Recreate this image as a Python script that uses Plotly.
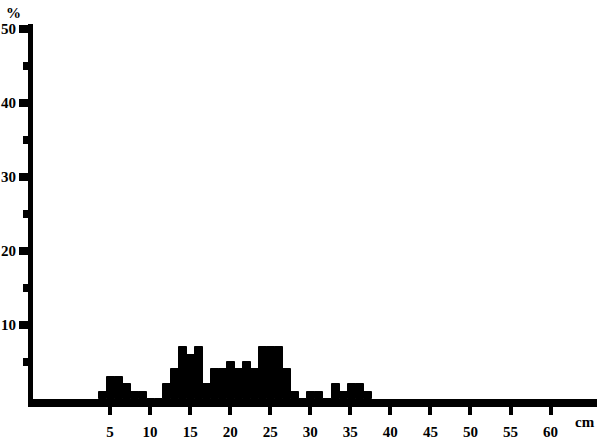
import plotly.graph_objects as go

# Length classes (cm) and share of fish (%)
lengths_cm = list(range(4, 38))
percent = [1, 3, 3, 2, 1, 1, 0, 0, 2, 4, 7, 6, 7, 2, 4, 4, 5, 4, 5, 4,
           7, 7, 7, 4, 1, 0, 1, 1, 0, 2, 1, 2, 2, 1]

x_ticks = [5, 10, 15, 20, 25, 30, 35, 40, 45, 50, 55, 60]
x_tick_labels = [str(v) for v in x_ticks]
x_long_ticks = [10, 20, 30, 40, 50, 60]
y_ticks = [10, 20, 30, 40, 50]
y_tick_labels = [str(v) for v in y_ticks]
y_minor_ticks = [5, 15, 25, 35, 45]

x_range = [-4.62, 65.8]
y_range = [0, 50.68]

font = dict(family="Liberation Serif", size=15, color="black", weight="bold")

fig = go.Figure()
fig.add_trace(go.Bar(
    x=lengths_cm, y=percent, width=1, offset=-0.35,
    marker=dict(color="black", line=dict(color="black", width=1)),
    hoverinfo="skip",
))
# invisible trace to carry the overlay axis for the long ticks
fig.add_trace(go.Scatter(x=[x_range[0]], y=[0], xaxis="x2", mode="markers",
                         marker=dict(opacity=0), hoverinfo="skip"))

fig.update_layout(
    width=599, height=439,
    margin=dict(l=33, r=2, t=24, b=40),
    plot_bgcolor="white", paper_bgcolor="white",
    showlegend=False, bargap=0,
    font=font,
    xaxis=dict(
        range=x_range, tickvals=x_ticks, ticktext=x_tick_labels,
        ticks="outside", ticklen=8, tickwidth=3.5, tickcolor="black",
        showline=True, linewidth=8, linecolor="black",
        showgrid=False, zeroline=False, tickfont=font,
        ticklabelstandoff=4, automargin=False,
    ),
    xaxis2=dict(
        range=x_range, overlaying="x", anchor="y", side="bottom",
        tickvals=x_long_ticks, showticklabels=False,
        ticks="outside", ticklen=13, tickwidth=3.5, tickcolor="black",
        showline=False, showgrid=False, zeroline=False, automargin=False,
    ),
    yaxis=dict(
        range=y_range, tickvals=y_ticks, ticktext=y_tick_labels,
        ticks="outside", ticklen=9, tickwidth=8, tickcolor="black",
        showline=True, linewidth=5, linecolor="black",
        showgrid=False, zeroline=False, tickfont=font, automargin=False,
        ticklabelstandoff=0,
        minor=dict(tickvals=y_minor_ticks, ticks="outside", ticklen=5,
                   tickwidth=8, tickcolor="black"),
    ),
    annotations=[
        dict(text="%", xref="paper", yref="paper", x=-0.034, y=1.029,
             showarrow=False, font=font, xanchor="center", yanchor="middle"),
        dict(text="cm", xref="x", yref="paper", x=64.3, y=-0.061,
             showarrow=False, font=font, xanchor="center", yanchor="middle"),
    ],
)

fig.write_html("out.html",
               config={"displayModeBar": False},
               post_script="document.body.style.margin='0px';")
